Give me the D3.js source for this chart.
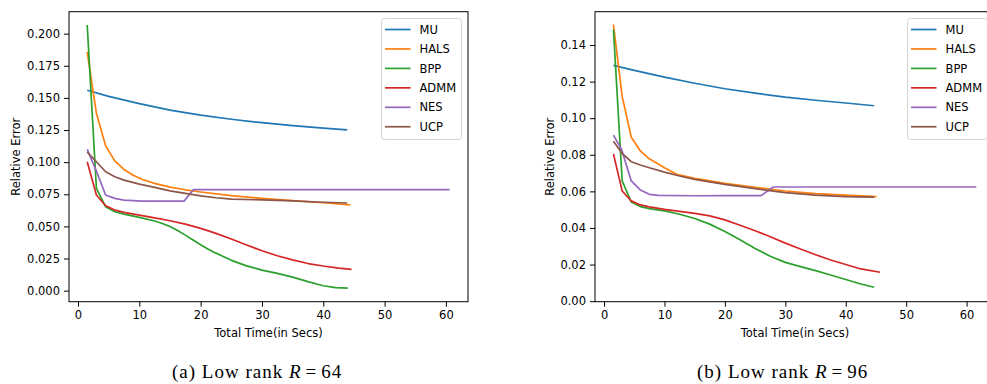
<!DOCTYPE html>
<html>
<head>
<meta charset="utf-8">
<script src="https://cdn.jsdelivr.net/npm/d3@7"></script>
<style>
  html, body { margin: 0; padding: 0; background: #fff; }
  svg { display: block; }
  .tick text { font-family: "DejaVu Sans", sans-serif; font-size: 11.5px; fill: #000; }
  .lbl { font-family: "DejaVu Sans", sans-serif; font-size: 11.5px; fill: #000; }
  .cap { font-family: "Liberation Serif", serif; font-size: 19px; fill: #000; letter-spacing: 1px; }
</style>
</head>
<body>
<svg id="chart" width="987" height="384"></svg>
<script>
// Algorithm names and their colours
const algorithms = ["MU", "HALS", "BPP", "ADMM", "NES", "UCP"];
const colors = ["#1f77b4", "#ff7f0e", "#2ca02c", "#d62728", "#9467bd", "#8c564b"];

// Tick labels
const xTicks = [0, 10, 20, 30, 40, 50, 60];
const yTicks64 = [0, 0.025, 0.05, 0.075, 0.1, 0.125, 0.15, 0.175, 0.2];
const yTicks96 = [0, 0.02, 0.04, 0.06, 0.08, 0.1, 0.12, 0.14];

// Low rank R = 64: [time (s), relative error]
const mu64 = [[1.5,0.156],[5,0.1512],[10,0.1455],[15,0.1405],[20,0.1366],[25,0.1334],[30,0.1307],[35,0.1284],[40,0.1265],[43.9,0.1252]];
const hals64 = [[1.5,0.1858],[3.0,0.138],[4.5,0.1127],[6.0,0.101],[7.5,0.0943],[9,0.0898],[10.5,0.0865],[12.5,0.0835],[15,0.0806],[17.5,0.0785],[20,0.0768],[25,0.0739],[30,0.0718],[35,0.0700],[40,0.0684],[44.4,0.0668]];
const bpp64 = [[1.5,0.2068],[3.0,0.0796],[4.5,0.0653],[6.0,0.0614],[7.5,0.0596],[10,0.0570],[12.5,0.0542],[13.75,0.0523],[15,0.0499],[16.25,0.0468],[17.5,0.0432],[18.75,0.0394],[20,0.0357],[21.25,0.0323],[22.5,0.0292],[25,0.0236],[27.5,0.0193],[30,0.0160],[32.5,0.0134],[35,0.0105],[37.5,0.0070],[40,0.0038],[42,0.0024],[44,0.0019]];
const admm64 = [[1.5,0.1003],[3.0,0.0744],[4.5,0.0661],[6.0,0.0627],[7.5,0.0609],[10,0.0588],[12.5,0.0567],[15,0.0544],[17.5,0.0518],[20,0.0485],[22.5,0.0446],[25,0.0402],[27.5,0.0355],[30,0.0311],[32.5,0.0272],[35,0.0239],[37.5,0.0211],[40,0.0192],[42.5,0.0176],[44.6,0.0166]];
const nes64 = [[1.5,0.1099],[3.0,0.093],[4.5,0.0744],[6.0,0.0718],[7.5,0.0705],[10.5,0.0697],[17.3,0.0697],[18.8,0.0786],[60.6,0.0786]];
const ucp64 = [[1.5,0.1078],[3.0,0.1003],[4.5,0.0925],[6.0,0.0886],[7.5,0.0860],[10,0.0829],[12.5,0.0804],[15,0.0777],[17.5,0.0757],[20,0.0738],[22.5,0.0723],[25,0.0713],[30,0.0706],[35,0.0698],[40,0.0688],[43.9,0.0682]];

// Low rank R = 96: [time (s), relative error]
const mu96 = [[1.55,0.1289],[5,0.1261],[10,0.1224],[15,0.1191],[20,0.1161],[25,0.1137],[30,0.1115],[35,0.1098],[40,0.1083],[44.7,0.1068]];
const hals96 = [[1.55,0.1512],[3.0,0.1119],[4.5,0.0896],[6.0,0.0821],[7.5,0.0778],[10,0.0729],[12,0.0693],[15,0.0671],[20,0.0644],[25,0.0622],[30,0.0602],[35,0.0588],[40,0.0579],[45.1,0.0571]];
const bpp96 = [[1.55,0.1485],[3.0,0.0657],[4.5,0.0542],[6.0,0.0517],[7.5,0.0506],[10,0.0493],[12.5,0.0475],[15,0.0452],[17.5,0.0421],[20,0.0381],[22.5,0.0336],[25,0.0288],[27.5,0.0245],[30,0.0212],[32.5,0.0189],[35,0.0167],[37.5,0.0143],[40,0.0118],[42.5,0.0094],[44.7,0.0076]];
const admm96 = [[1.55,0.0805],[3.0,0.0602],[4.5,0.0548],[6.0,0.0526],[7.5,0.0515],[10,0.0502],[12.5,0.0491],[15,0.0480],[17.5,0.0466],[20,0.0444],[22.5,0.0415],[25,0.0385],[27.5,0.0352],[30,0.0317],[32.5,0.0285],[35,0.0254],[37.5,0.0225],[40,0.0200],[42.5,0.0176],[45.7,0.0158]];
const nes96 = [[1.55,0.0907],[2.9,0.0829],[4.5,0.0657],[6.0,0.0608],[7.5,0.0584],[9.0,0.0578],[15,0.0576],[20,0.0577],[26,0.0577],[28.0,0.0624],[61.6,0.0624]];
const ucp96 = [[1.55,0.0874],[3.0,0.0807],[4.5,0.0762],[6.0,0.0744],[7.5,0.0729],[10,0.0705],[12.5,0.0684],[15,0.0666],[20,0.0638],[25,0.0615],[30,0.0593],[35,0.0579],[40,0.0571],[44.7,0.0569]];

const svg = d3.select("#chart");

function panel(opts) {
  const { left, right, top, bottom, xDomain, yDomain, yTicks, yFmt, series, legendX, caption, capX } = opts;
  const x = d3.scaleLinear().domain(xDomain).range([left, right]);
  const y = d3.scaleLinear().domain(yDomain).range([bottom, top]);
  const g = svg.append("g");

  // Data lines, clipped to the axes box
  const clipId = "clip" + Math.round(left);
  g.append("clipPath").attr("id", clipId).append("rect")
    .attr("x", left).attr("y", top).attr("width", right - left).attr("height", bottom - top);
  const line = d3.line().x(d => x(d[0])).y(d => y(d[1]));
  const lines = g.append("g").attr("clip-path", `url(#${clipId})`);
  series.forEach((s, i) => {
    lines.append("path").datum(s)
      .attr("d", line)
      .attr("fill", "none")
      .attr("stroke", colors[i])
      .attr("stroke-width", 1.7)
      .attr("stroke-linejoin", "round")
      .attr("stroke-linecap", "butt");
  });

  // Axes
  const xAxis = d3.axisBottom(x).tickValues(xTicks).tickFormat(d3.format("d")).tickSize(5).tickPadding(4);
  const yAxis = d3.axisLeft(y).tickValues(yTicks).tickFormat(d3.format(yFmt)).tickSize(5).tickPadding(4);
  const gx = g.append("g").attr("transform", `translate(0,${bottom})`).call(xAxis);
  const gy = g.append("g").attr("transform", `translate(${left},0)`).call(yAxis);
  [gx, gy].forEach(a => {
    a.select(".domain").remove();
    a.selectAll(".tick line").attr("stroke", "#000").attr("stroke-width", 1);
  });
  gx.selectAll(".tick text").attr("dy", "0.74em");

  // Frame
  g.append("rect")
    .attr("x", left).attr("y", top).attr("width", right - left).attr("height", bottom - top)
    .attr("fill", "none").attr("stroke", "#000").attr("stroke-width", 1);

  // Axis titles
  g.append("text").attr("class", "lbl")
    .attr("x", (left + right) / 2).attr("y", bottom + 35.5)
    .attr("text-anchor", "middle").text("Total Time(in Secs)");
  g.append("text").attr("class", "lbl")
    .attr("transform", `translate(${opts.yLabelX},${(top + bottom) / 2}) rotate(-90)`)
    .attr("text-anchor", "middle").attr("dy", "0.35em").text("Relative Error");

  // Legend
  const lg = g.append("g").attr("transform", `translate(${legendX},18.5)`);
  lg.append("rect").attr("x", 0.5).attr("y", 0).attr("width", 80).attr("height", 121)
    .attr("rx", 3).attr("fill", "#fff").attr("fill-opacity", 0.8)
    .attr("stroke", "#d4d4d4").attr("stroke-width", 1);
  algorithms.forEach((name, i) => {
    const yy = 11 + i * 19.45;
    lg.append("line").attr("x1", 4).attr("x2", 29.5).attr("y1", yy).attr("y2", yy)
      .attr("stroke", colors[i]).attr("stroke-width", 1.7);
    lg.append("text").attr("class", "lbl").attr("x", 38.5).attr("y", yy).attr("dy", "0.36em").text(name);
  });

  // Sub-figure caption
  const cap = svg.append("text").attr("class", "cap").attr("x", capX).attr("y", 377.5);
  cap.append("tspan").text(caption[0] + " Low rank ");
  cap.append("tspan").attr("font-style", "italic").text("R");
  cap.append("tspan").attr("dx", 4).text("=");
  cap.append("tspan").attr("dx", 4).text(caption[1]);
}

panel({
  left: 69, right: 468, top: 11.7, bottom: 301.7,
  xDomain: [-1.47, 63.6], yDomain: [-0.0086, 0.2171],
  yTicks: yTicks64, yFmt: ".3f",
  series: [mu64, hals64, bpp64, admm64, nes64, ucp64],
  legendX: 381, yLabelX: 16,
  caption: ["(a)", "64"], capX: 172
});

panel({
  left: 595, right: 995, top: 11.7, bottom: 301.7,
  xDomain: [-1.5, 64.7], yDomain: [-0.0003, 0.1582],
  yTicks: yTicks96, yFmt: ".2f",
  series: [mu96, hals96, bpp96, admm96, nes96, ucp96],
  legendX: 907, yLabelX: 550,
  caption: ["(b)", "96"], capX: 697
});
</script>
</body>
</html>
